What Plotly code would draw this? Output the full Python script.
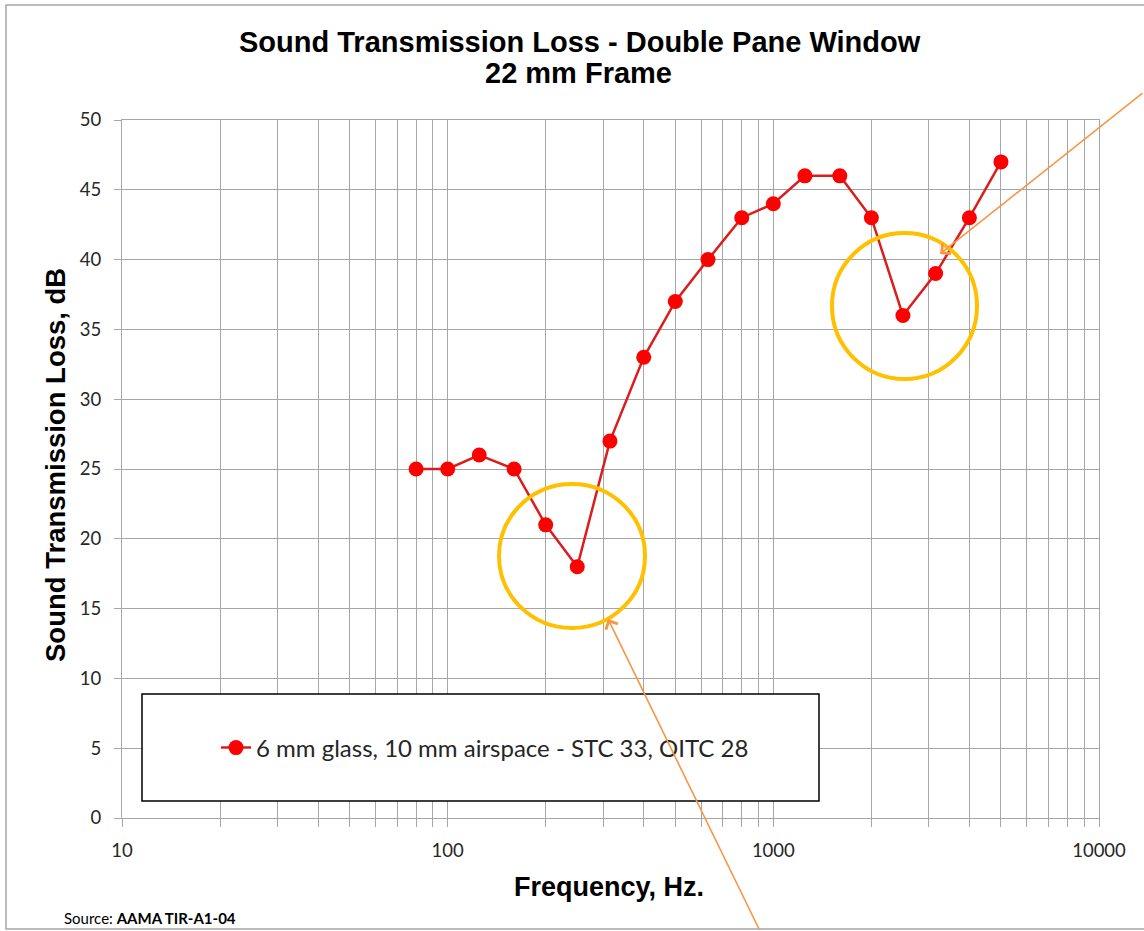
import plotly.graph_objects as go

# ---- data ----
freq = [80, 100, 125, 160, 200, 250, 315, 400, 500, 630, 800, 1000, 1250,
        1600, 2000, 2500, 3150, 4000, 5000]
tl_db = [25, 25, 26, 25, 21, 18, 27, 33, 37, 40, 43, 44, 46, 46, 43, 36, 39, 43, 47]
series_name = "6 mm glass, 10 mm airspace - STC 33, OITC 28"
title_lines = ["Sound Transmission Loss - Double Pane Window", "22 mm Frame"]
x_title = "Frequency, Hz."
y_title = "Sound Transmission Loss, dB"
source_text = "Source: <b>AAMA TIR-A1-04</b>"
x_tick_vals = [10, 100, 1000, 10000]
x_tick_text = ["10", "100", "1000", "10000"]
y_tick_vals = [0, 5, 10, 15, 20, 25, 30, 35, 40, 45, 50]

W, H = 1144, 931
L, R, T, B = 122, 1099, 120, 818
pw, ph = R - L, B - T


def px(x):
    return (x - L) / pw


def py(y):
    return (B - y) / ph


GRID = "#A6A6A6"
TXT = "#262626"

fig = go.Figure()
fig.add_trace(go.Scatter(
    x=freq, y=tl_db, mode="lines+markers", name=series_name,
    line=dict(color="#D91E1E", width=2.5),
    marker=dict(color="#FF0000", size=15, line=dict(width=0)),
))

fig.update_layout(
    width=W, height=H,
    margin=dict(l=L, r=W - R, t=T, b=H - B),
    paper_bgcolor="white", plot_bgcolor="white",
    showlegend=True,
    legend=dict(x=px(216), y=py(748), xanchor="left", yanchor="middle",
                bgcolor="rgba(0,0,0,0)", borderwidth=0,
                font=dict(family="Lato", size=24, color=TXT)),
    xaxis=dict(type="log", range=[1, 4], tickvals=x_tick_vals, ticktext=x_tick_text,
               showgrid=True, gridcolor=GRID, gridwidth=1,
               ticks="outside", ticklen=8, tickcolor=GRID, tickwidth=1,
               showline=True, linecolor=GRID, linewidth=1, mirror=True,
               zeroline=False, ticklabelstandoff=8,
               tickfont=dict(family="Lato", size=18.5, color=TXT),
               minor=dict(dtick="D1", showgrid=True, gridcolor=GRID, gridwidth=1,
                          ticks="outside", ticklen=8, tickcolor=GRID, tickwidth=1)),
    yaxis=dict(range=[0, 50], tickvals=y_tick_vals, showgrid=True, gridcolor=GRID,
               gridwidth=1, ticks="outside", ticklen=7, tickcolor=GRID, tickwidth=1,
               showline=True, linecolor=GRID, linewidth=1, mirror=True,
               zeroline=False, ticklabelstandoff=9,
               tickfont=dict(family="Lato", size=18.5, color=TXT)),
)

shapes = [
    # outer chart border
    dict(type="rect", xref="paper", yref="paper", x0=px(6), x1=px(1160), y0=py(929), y1=py(5),
         line=dict(color="#A6A6A6", width=1.5), fillcolor="rgba(0,0,0,0)", layer="below"),
    # legend box
    dict(type="rect", xref="paper", yref="paper", x0=px(142), x1=px(819), y0=py(801), y1=py(694),
         line=dict(color="black", width=1.5), fillcolor="white", layer="above"),
    # highlight circles
    dict(type="circle", xref="paper", yref="paper", x0=px(499), x1=px(645), y0=py(628), y1=py(484),
         line=dict(color="#FFC000", width=4), fillcolor="rgba(0,0,0,0)", layer="above"),
    dict(type="circle", xref="paper", yref="paper", x0=px(832), x1=px(977), y0=py(379), y1=py(233),
         line=dict(color="#FFC000", width=4), fillcolor="rgba(0,0,0,0)", layer="above"),
]
fig.update_layout(shapes=shapes)

ttl_font = dict(family="Liberation Sans, Arial", size=29, color="black")
annotations = [
    dict(text="<b>%s</b>" % title_lines[0], xref="paper", yref="paper", x=px(580), y=py(42),
         xanchor="center", yanchor="middle", showarrow=False, font=ttl_font),
    dict(text="<b>%s</b>" % title_lines[1], xref="paper", yref="paper", x=px(578), y=py(73),
         xanchor="center", yanchor="middle", showarrow=False, font=ttl_font),
    dict(text="<b>%s</b>" % x_title, xref="paper", yref="paper", x=px(609), y=py(887),
         xanchor="center", yanchor="middle", showarrow=False,
         font=dict(family="Liberation Sans, Arial", size=27, color="black")),
    dict(text="<b>%s</b>" % y_title, xref="paper", yref="paper", x=px(55), y=py(465),
         xanchor="center", yanchor="middle", showarrow=False, textangle=-90,
         font=dict(family="Liberation Sans, Arial", size=27.5, color="black")),
    dict(text=source_text, xref="paper", yref="paper", x=px(62), y=py(918),
         xanchor="left", yanchor="middle", showarrow=False,
         font=dict(family="Lato", size=15, color="black")),
    # arrows
    dict(text="", xref="paper", yref="paper", x=px(940), y=py(254), ax=212, ay=-162,
         showarrow=True, arrowhead=4, arrowsize=1.6, arrowwidth=1.6, arrowcolor="#F79646",
         standoff=0),
    dict(text="", xref="paper", yref="paper", x=px(608), y=py(619), ax=152, ay=316,
         showarrow=True, arrowhead=4, arrowsize=1.6, arrowwidth=1.6, arrowcolor="#F79646",
         standoff=0),
]
fig.update_layout(annotations=annotations)

fig.write_html("out.html")
